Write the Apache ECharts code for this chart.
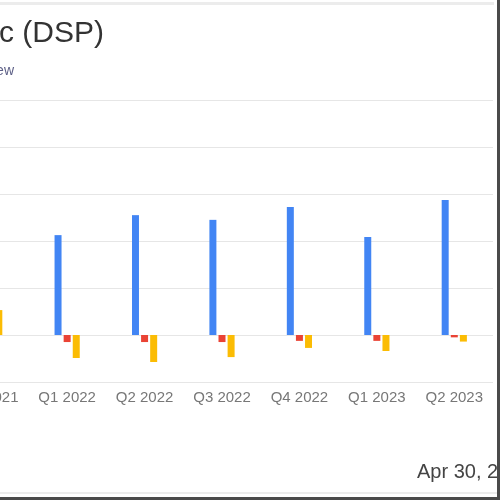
<!DOCTYPE html>
<html lang="en">
  <head>
    <meta charset="utf-8" />
    <title>Viant Technology Inc (DSP)</title>
    <script src="https://cdn.jsdelivr.net/npm/echarts@6/dist/echarts.min.js"></script>
  </head>
  <style>
    * {
      margin: 0;
      padding: 0;
    }

    body {
      width: 500px;
      height: 500px;
      background: #fff;
    }

    #main {
      width: 500px;
      height: 500px;
    }
  </style>
  <body>
    <div id="main"></div>
    <script>
      // values in millions of dollars
      const quarters = ["Q4 2021", "Q1 2022", "Q2 2022", "Q3 2022", "Q4 2022", "Q1 2023", "Q2 2023"];
      const revenue = [68, 42.5, 51, 49, 54.5, 41.7, 57.4];
      const netIncomeAttr = [1, -3, -3, -3, -2.5, -2.5, -1];
      const netIncome = [10.6, -9.8, -11.5, -9.4, -5.5, -6.8, -2.8];
      const yTicks = { min: -20, max: 100, interval: 20 };

      const chart = echarts.init(document.getElementById("main"));
      const font = "Liberation Sans, Arial, sans-serif";

      const option = {
        animation: false,
        title: [
          {
            text: "Viant Technology Inc (DSP)",
            left: 99,
            top: 14,
            textAlign: "right",
            textStyle: { fontFamily: font, fontSize: 30, fontWeight: "normal", color: "#333" },
          },
          {
            text: "Quarterly Earnings Overview",
            left: 9,
            top: 59,
            textAlign: "right",
            textStyle: { fontFamily: font, fontSize: 14, fontWeight: "normal", color: "#5c5f86" },
          },
        ],
        grid: { left: -49, right: 7, top: 100, bottom: 118, outerBoundsMode: "none" },
        xAxis: {
          type: "category",
          data: quarters,
          axisLine: { show: false, onZero: false },
          axisTick: { show: false },
          axisLabel: { interval: 0, fontFamily: font, fontSize: 15, color: "#777", margin: 8 },
        },
        yAxis: {
          type: "value",
          min: yTicks.min,
          max: yTicks.max,
          interval: yTicks.interval,
          axisLabel: { formatter: (v) => "$" + v + "M" },
          splitLine: { lineStyle: { color: "#e6e6e6", width: 1 } },
        },
        series: [
          {
            name: "Revenue",
            type: "bar",
            data: revenue,
            barWidth: 7,
            barGap: "30%",
            itemStyle: { color: "#4285f4" },
          },
          {
            name: "Net Income Attributable",
            type: "bar",
            data: netIncomeAttr,
            barWidth: 7,
            barGap: "30%",
            itemStyle: { color: "#ea4335" },
          },
          {
            name: "Net Income",
            type: "bar",
            data: netIncome,
            barWidth: 7,
            barGap: "30%",
            itemStyle: { color: "#fbbc04" },
          },
        ],
        graphic: [
          { type: "rect", shape: { x: 0, y: 2, width: 494, height: 3 }, style: { fill: "#ececec" } },
          { type: "rect", shape: { x: 0, y: 492, width: 497, height: 2 }, style: { fill: "#ececec" } },
          {
            type: "text",
            left: 417,
            top: 462,
            style: { text: "Apr 30, 2024", font: "20px " + font, fill: "#444" },
          },
          { type: "rect", shape: { x: 497, y: 0, width: 3, height: 500 }, style: { fill: "#4a4a4a" } },
          { type: "rect", shape: { x: 0, y: 497, width: 500, height: 3 }, style: { fill: "#4a4a4a" } },
        ],
      };

      chart.setOption(option);
    </script>
  </body>
</html>
